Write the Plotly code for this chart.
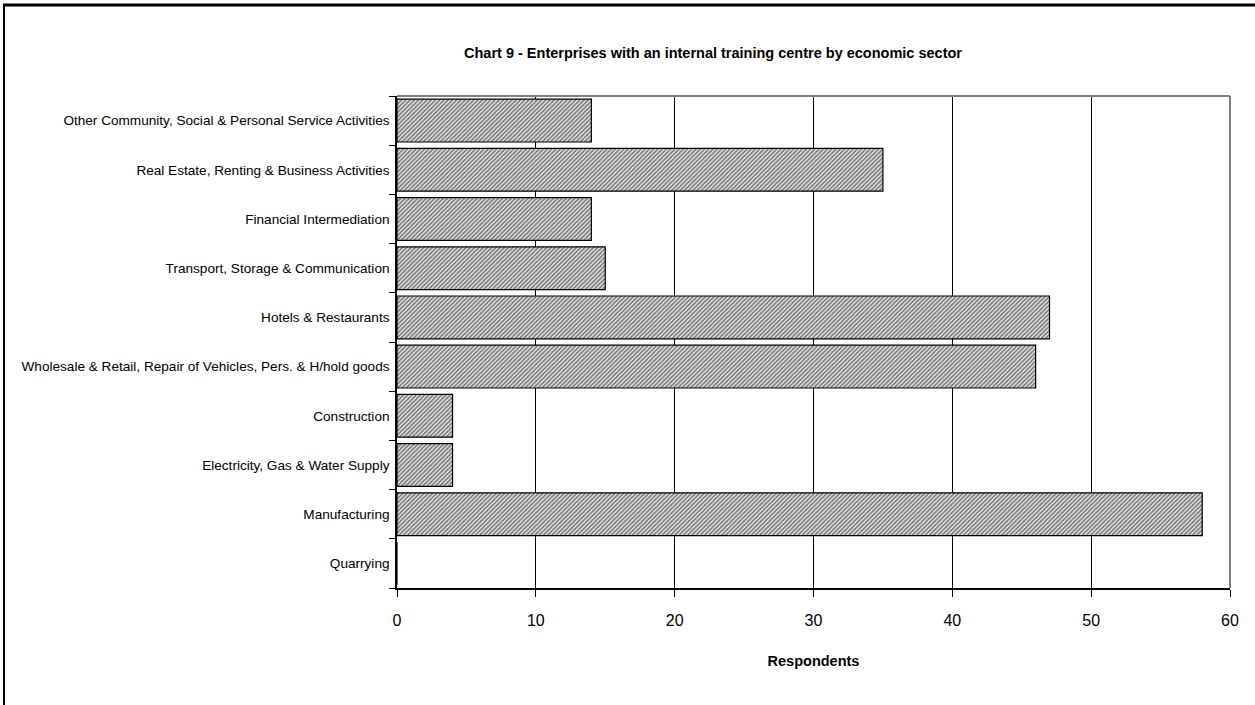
import plotly.graph_objects as go

# Sectors listed bottom-to-top as they appear on the category axis
sectors = [
    "Quarrying",
    "Manufacturing",
    "Electricity, Gas & Water Supply",
    "Construction",
    "Wholesale & Retail, Repair of Vehicles, Pers. & H/hold goods",
    "Hotels & Restaurants",
    "Transport, Storage & Communication",
    "Financial Intermediation",
    "Real Estate, Renting & Business Activities",
    "Other Community, Social & Personal Service Activities",
]
respondents = [0, 58, 4, 4, 46, 47, 15, 14, 35, 14]
x_ticks = [0, 10, 20, 30, 40, 50, 60]

W, H = 1255, 705
L, R, T, B = 397, 25, 96, 117

fig = go.Figure(
    go.Bar(
        x=respondents,
        y=sectors,
        orientation="h",
        marker=dict(
            color="white",
            line=dict(color="black", width=1.2),
            pattern=dict(shape="/", size=3, solidity=0.65,
                         fgcolor="black", bgcolor="white"),
        ),
        hoverinfo="x+y",
    )
)

font_family = "Arial, Liberation Sans, sans-serif"

fig.update_layout(
    width=W, height=H,
    margin=dict(l=L, r=R, t=T, b=B, pad=0),
    paper_bgcolor="white",
    plot_bgcolor="white",
    bargap=0.13,
    showlegend=False,
    font=dict(family=font_family, color="black", size=13),
    title=dict(
        text="<b>Chart 9 - Enterprises with an internal training centre by economic sector</b>",
        x=713 / W, xanchor="center",
        y=1 - 53 / H, yanchor="middle", yref="container",
        font=dict(size=14.5, family=font_family, color="black"),
    ),
)

fig.update_xaxes(
    range=[0, 60],
    tickvals=x_ticks,
    ticks="outside", ticklen=7, tickcolor="black",
    showgrid=True, gridcolor="black", gridwidth=1,
    showline=True, linecolor="black", linewidth=1.5,
    zeroline=False,
    tickfont=dict(size=16),
    ticklabelstandoff=10,
    title=dict(text="<b>Respondents</b>", font=dict(size=14.5), standoff=28),
    mirror=False,
)

fig.update_yaxes(
    type="category",
    categoryorder="array", categoryarray=sectors,
    tickson="boundaries",
    ticks="outside", ticklen=6, tickcolor="black",
    showline=True, linecolor="black", linewidth=1.5,
    showgrid=False, zeroline=False,
    tickfont=dict(size=13.6),
    ticklabelstandoff=3,
)

# Gray top and right edges of the plotting area
fig.add_shape(type="line", xref="paper", yref="paper", x0=0, x1=1, y0=1, y1=1,
              line=dict(color="#808080", width=2))
fig.add_shape(type="line", xref="paper", yref="paper", x0=1, x1=1, y0=0, y1=1,
              line=dict(color="#808080", width=2))

# Outer chart frame (left and top edges)
def px_x(px):
    return (px - L) / (W - L - R)

def px_y(py):
    return (H - B - py) / (H - T - B)

fig.add_shape(type="line", xref="paper", yref="paper",
              x0=px_x(4), x1=px_x(4), y0=px_y(4), y1=px_y(H + 5),
              line=dict(color="black", width=2))
fig.add_shape(type="line", xref="paper", yref="paper",
              x0=px_x(3), x1=px_x(W + 5), y0=px_y(5), y1=px_y(5),
              line=dict(color="black", width=3))

fig.write_html("out.html")
